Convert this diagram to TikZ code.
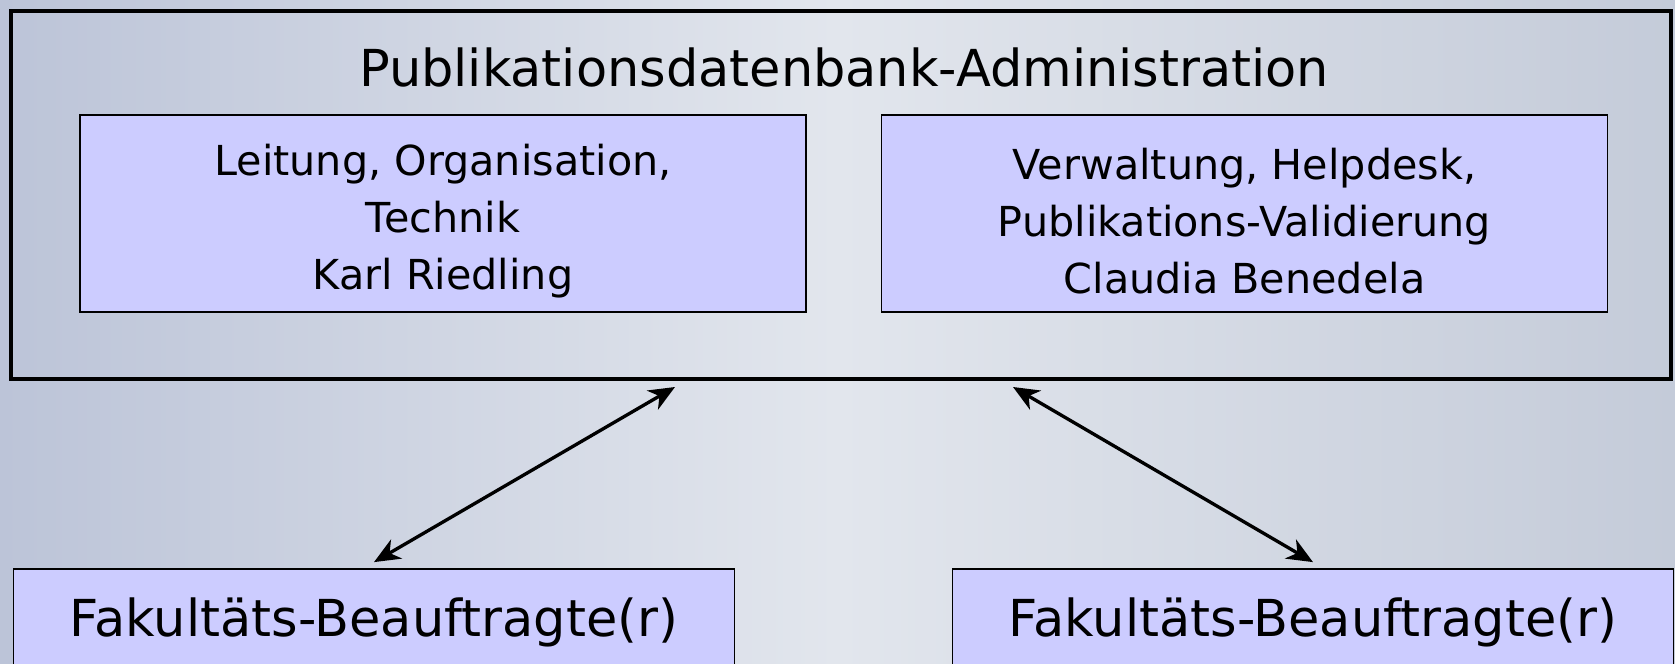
\documentclass[tikz,border=0pt]{standalone}
\usepackage{fontspec}
\setmainfont{DejaVu Sans}
\usetikzlibrary{arrows.meta,positioning}

\definecolor{boxfill}{RGB}{204,204,255}
\definecolor{bgleft}{RGB}{188,196,216}
\definecolor{bgmid}{RGB}{226,230,237}
\definecolor{bgright}{RGB}{196,203,217}

% taller first line, sets the text a bit lower in its box
\newcommand{\lift}[1]{\rule{0pt}{#1}}

\begin{document}
\begin{tikzpicture}[
    orgbox/.style={draw=black, line width=1pt, fill=boxfill, inner sep=0pt, align=center},
    unitbox/.style={orgbox, minimum width=14.52cm, minimum height=3.94cm,
      font=\fontsize{23.5}{32.4}\selectfont},
    facbox/.style={orgbox, minimum width=14.42cm, minimum height=1.94cm,
      font=\fontsize{29}{34}\selectfont},
    link/.style={line width=1.9pt, {Stealth[length=0.52cm,width=0.44cm,inset=0.16cm]}-{Stealth[length=0.52cm,width=0.44cm,inset=0.16cm]}}
  ]
  % background
  \useasboundingbox (0,0) rectangle (33.5,-13.28);
  \shade[left color=bgleft, right color=bgright, middle color=bgmid] (0,0) rectangle (33.5,-13.28);

  % administration frame
  \node[draw=black, line width=2.4pt, minimum width=33.2cm, minimum height=7.36cm] (admin) at (16.82,-3.90) {};
  \node[anchor=base, font=\fontsize{29}{34}\selectfont] (title) at (16.88,-1.73) {Publikationsdatenbank-Administration};
  \node[unitbox] (lead) at (8.86,-4.27) {\lift{26.5pt}Leitung, Organisation,\\Technik\\Karl Riedling};
  \node[unitbox] (staff) at (24.89,-4.27) {\lift{26.5pt}Verwaltung, Helpdesk,\\Publikations-Validierung\\Claudia Benedela};

  % faculty representatives
  \node[facbox] (facL) at (7.48,-12.35) {\lift{28pt}Fakultäts-Beauftragte(r)};
  \node[facbox] (facR) at (26.26,-12.35) {\lift{28pt}Fakultäts-Beauftragte(r)};

  \coordinate (upL) at (13.50,-7.74);
  \coordinate (upR) at (20.26,-7.74);
  \draw[link] (upL) -- ([yshift=0.12cm]facL.north);
  \draw[link] (upR) -- ([yshift=0.12cm]facR.north);
\end{tikzpicture}
\end{document}
